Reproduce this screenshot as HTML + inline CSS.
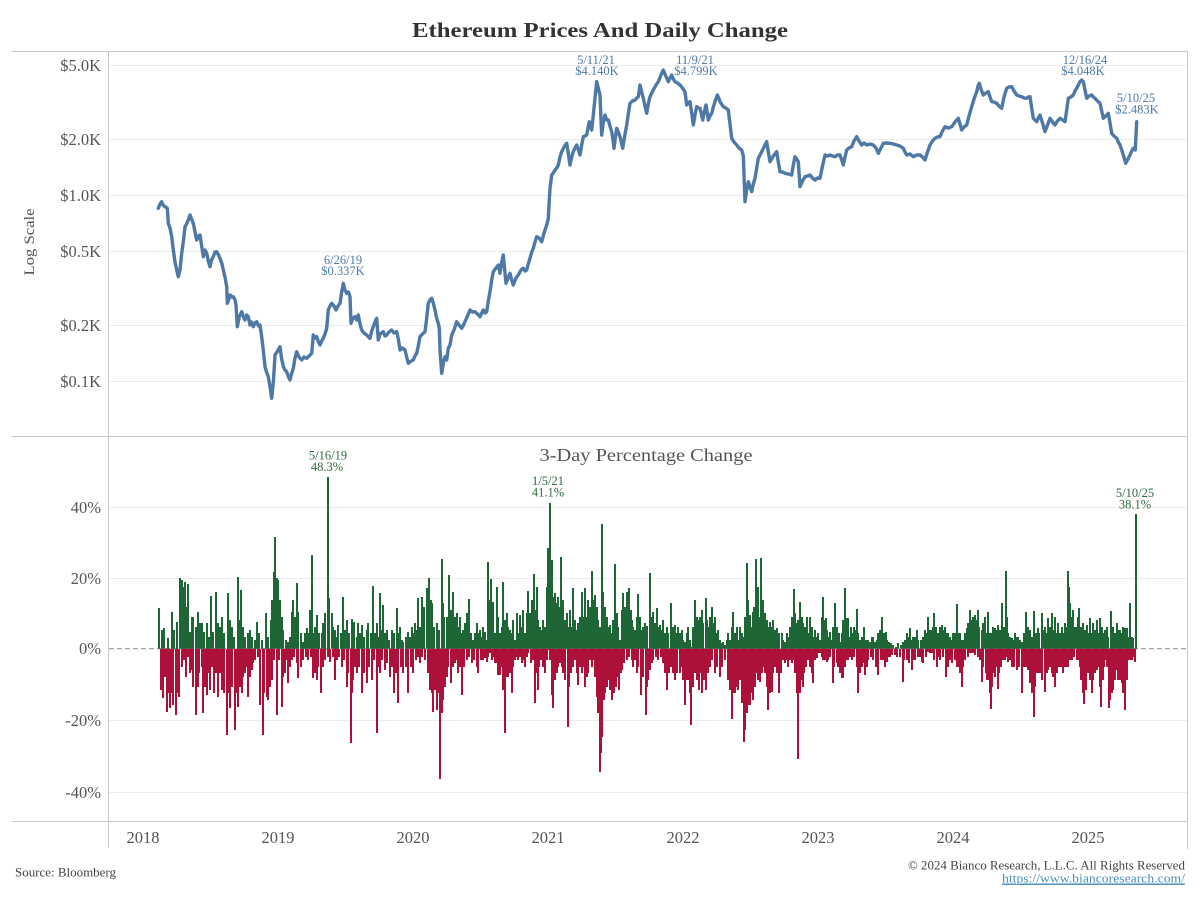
<!DOCTYPE html>
<html>
<head>
<meta charset="utf-8">
<style>
html,body{margin:0;padding:0;background:#fff;}
svg{display:block;}
text{font-family:"Liberation Serif","DejaVu Serif",serif;}
</style>
</head>
<body>
<svg width="1200" height="900" viewBox="0 0 1200 900" xmlns="http://www.w3.org/2000/svg">
<rect width="1200" height="900" fill="#fff"/>

<!-- Title -->
<text x="600" y="37" text-anchor="middle" font-size="21" font-weight="bold" fill="#333" textLength="376" lengthAdjust="spacingAndGlyphs">Ethereum Prices And Daily Change</text>

<!-- gridlines -->
<g stroke="#ececec" stroke-width="1">
<line x1="109" y1="65.5" x2="1187" y2="65.5"/>
<line x1="109" y1="139.5" x2="1187" y2="139.5"/>
<line x1="109" y1="195.5" x2="1187" y2="195.5"/>
<line x1="109" y1="251.5" x2="1187" y2="251.5"/>
<line x1="109" y1="325.5" x2="1187" y2="325.5"/>
<line x1="109" y1="381.5" x2="1187" y2="381.5"/>
<line x1="109" y1="507.5" x2="1187" y2="507.5"/>
<line x1="109" y1="578.5" x2="1187" y2="578.5"/>
<line x1="109" y1="720.5" x2="1187" y2="720.5"/>
<line x1="109" y1="792.5" x2="1187" y2="792.5"/>
</g>

<!-- frame -->
<g stroke="#c8c8c8" stroke-width="1">
<line x1="12" y1="51.5" x2="1188" y2="51.5"/>
<line x1="12" y1="436.5" x2="1188" y2="436.5"/>
<line x1="12" y1="821.5" x2="1188" y2="821.5"/>
<line x1="108.5" y1="51.5" x2="108.5" y2="848"/>
<line x1="1187.5" y1="51.5" x2="1187.5" y2="849"/>
</g>

<!-- y labels top -->
<g font-size="16.5" fill="#555" text-anchor="end">
<text x="101" y="71">$5.0K</text>
<text x="101" y="145">$2.0K</text>
<text x="101" y="201">$1.0K</text>
<text x="101" y="257">$0.5K</text>
<text x="101" y="331">$0.2K</text>
<text x="101" y="387">$0.1K</text>
</g>
<text transform="translate(34,242) rotate(-90)" text-anchor="middle" font-size="15" fill="#555" textLength="67" lengthAdjust="spacingAndGlyphs">Log Scale</text>

<!-- price line -->
<polyline fill="none" stroke="#4e79a7" stroke-width="3.4" stroke-linejoin="round" stroke-linecap="round" points="158.3,208.3 160,204 161.7,201.7 163,205 165,206.7 167.3,208.3 168.3,223.3 170,228 171.7,236.7 173.3,250 175,262 176.7,270 178.3,276.7 180,270 181.7,253.3 183.5,240 185,226.7 186.5,224 188.3,220 190,215 191.5,219 193.3,223.3 195,232 196.7,240 198.5,236 200,235 201.5,245 203.3,256.7 205,250 206.7,253.3 208.5,262 210,266.7 211.5,260 213.3,256.7 215,252 216.7,251.7 218.5,255 220,258.3 222,264 223.3,270 225,277 226.7,286.7 227.3,303.3 228.5,300 230,295 231.5,297 233.3,296.7 235,300 236,305 237.3,326.7 239.3,316.7 241.7,311.7 243.5,317 245,320 246.7,315 248.3,316.7 250,325 251.5,322 253.3,326.7 255,323 256.7,321.7 258.5,326 260,325 261.7,336.7 263.5,352 265,366.7 266.5,372 268.3,376.7 270,387 271.7,398.3 273.5,380 275,355 277,352 280,346.7 281.5,358 283.3,366.7 285,370 286.7,371.7 288.5,377 290,380 291.5,374 293.3,368.3 295,358 296.7,351.7 299,357 301.7,360 304,357 306.7,358.3 309,356 311.7,353.3 313.3,335 315,338 316.7,336.7 318.5,342 320,345 321.7,341 323.3,338.3 325,334 326.7,328.3 328.3,310 330,306 331.7,303.3 334,306 336,310 338,306 340,303.3 341.7,292 343.3,283.3 345,290 346.7,293.3 348.5,292 350,296.7 351,323.3 353,318 355,316.7 356.7,320 358.3,315 360,324 361.7,330 364,333 366.7,335 368.5,337 370,338.3 371.7,331 373.3,326.7 375,322 376.7,318.3 378.3,340 380,334 383.3,331.7 385,336 386.7,335 389,332 391.7,330 394,333 396.7,331.7 398.5,340 400,350 402.5,348 405,350 406.7,357 408.3,363.3 411,361 413.3,360 415,356 416.7,353.3 418.5,345 420,336.7 422.5,334 425,331.7 426.7,318 428.3,303.3 430,300 431.7,298.3 433.3,303 435,310 436.7,318.3 438.3,323.3 439.3,328.3 440,350 441.7,373.3 443.5,362 445,356.7 446.7,360 448.3,348.3 450,345 451.7,335 454,330 456.7,321.7 459,325 461.7,328.3 463.5,325 465,321.7 467.5,316 470,310 472.5,312 475,311.7 477.5,314 480,316.7 481.7,313 483.3,310 485,313 486.7,311.7 488.5,300 490,291.7 491.7,280 493.3,271.7 496,268 498.3,265 500,273.3 501.7,262 503.3,255 504.7,270 506,283.3 508,278 510,273.3 511.7,280 513.3,285 516,278 518.3,275 521,270 523.3,268.3 525,271 526.7,270 528.5,263 530,258.3 531.7,252 533.3,248.3 535,242 536.7,236.7 539,238 541.7,241.7 543.5,235 545,230 546.7,225 548.3,218.3 549.3,200 550,188.3 551.7,175 553.3,173 555,170 556.7,168 558.3,165 560,157 561.7,151.7 564,147 566.7,143.3 568.5,155 570,165 571.7,157 573.3,151.7 575,148 576.7,145 578.5,150 580,155 581.7,145 583.3,136.7 585,136 586.7,135 588,128 589.3,121.7 590.5,126 591.7,130 593.3,115 595,98 596.7,81.7 598.3,88 600,95 600.8,115 601.7,135 603.3,122 605,115 606.7,120 608.3,120 610,126 611.7,131.7 613,140 614,148.3 615.3,138 616.7,128.3 618.3,132 620,136.7 621.5,143 622.7,148.3 624.7,136 626.7,125 628.3,114 630,103.3 632.5,101 635,100 636.7,98 638.3,96.7 640,85 641.7,92 643.3,98.3 645,106 646.7,113.3 648.3,104 650,96.7 651.7,93 653.3,90 656,85 658.3,81.7 661,75 663.3,70 665.8,76 668.3,81.7 670,78 671.7,75 673.3,79 675,81.7 677.5,83 680,85 682.5,88 685,91.7 686.7,105 688.3,103 690,101.7 691.7,113 693.3,125 695,115 696.7,106.7 698.3,108 700,108.3 701.4,114 702.7,120 704.3,112 706,105 707.2,112 708.3,120 710,116 711.7,113.3 713.3,107 715,101.7 717.3,95 718.7,98 720,101.7 723.3,106.7 725.8,108 728.3,110 730,124 731.7,138.3 734,142 736.7,145 739,148 741.7,150 743.3,156 744.2,180 745,201.7 746.7,190 748.3,181.7 750,187 751.7,191.7 753.3,184 755,178.3 756.7,168 758.3,158.3 760,155 761.7,151.7 764,147 766.7,141.7 768.3,152 770,161.7 773.3,156 776.7,151.7 778.3,162 780,171.7 782.5,172 785,173.3 788.3,174 791.7,175 793.3,165 795,156.7 796.7,159 798.3,161.7 799.2,175 800,186.7 802.5,181 805,176.7 807.5,176 810,175 812.5,178 815,180 817.5,178 820,178.3 822.5,166 825,155 827.5,156 830,155 832.5,156 835,156.7 837.5,155 840,155 841.7,160 843.3,165 845,157 846.7,150 849,148 851.7,146.7 854,141 856.7,136.7 859,141 861.7,145 864,143 866.7,145 870,144 873.3,145 876,148 878.3,153.3 881,148 883.3,143.3 886.7,143 890,143.3 893.3,144 896.7,145 900,146 903.3,148.3 905,152 906.7,155 910,154 913.3,156.7 916.7,155 920,155 922.5,157 925,160 927.5,152 930,145 932.5,141 935,138.3 937.5,137 940,136.7 942.5,131 945,126.7 948.3,128 951.7,126.7 955,122 958.3,118.3 960,124 961.7,130 964,127 966.7,125 969,116 971.7,106.7 974,99 976.7,91.7 978,86 979.3,83.3 981.3,90 983.3,95 985.8,93 988.3,91.7 990,97 991.7,101.7 994,102 996.7,103.3 999,106 1001.7,108.3 1004,97 1006.7,88.3 1009,87 1011.7,86.7 1014,91 1016.7,95 1019,96 1021.7,96.7 1024,98 1026.7,98.3 1028.3,97 1030,96.7 1031.7,108 1033.3,118.3 1035,120 1036.7,121.7 1038.3,118 1040,115 1042.5,123 1045,131.7 1047.5,125 1050,118.3 1052.5,122 1055,125 1057.5,121 1060,118.3 1062.5,120 1065,121.7 1066.7,110 1068.3,98.3 1070.8,97 1073.3,95 1075,91 1076.7,88.3 1078.3,85 1080,81.7 1081.7,80 1083.3,81.7 1085,90 1086.7,98.3 1089,96 1091.7,95 1093.3,97 1095,98.3 1097.5,101 1100,103.3 1101.7,111 1103.3,118.3 1105.8,116 1108.3,113.3 1110,123 1111.7,133.3 1114,136 1116.7,138.3 1118.3,142 1120,145 1121.7,150 1123.3,155 1124.5,159 1125.7,163.3 1128,159 1130,155 1131.7,151 1133.3,148.3 1135.3,150 1136,135 1136.7,121.7"/>

<!-- price annotations -->
<g font-size="12.5" fill="#4e79a7" text-anchor="middle">
<text x="343" y="264">6/26/19</text>
<text x="343" y="275">$0.337K</text>
<text x="596" y="64">5/11/21</text>
<text x="597" y="75">$4.140K</text>
<text x="695" y="64">11/9/21</text>
<text x="696" y="75">$4.799K</text>
<text x="1085" y="64">12/16/24</text>
<text x="1083" y="75">$4.048K</text>
<text x="1136" y="102">5/10/25</text>
<text x="1137" y="113.5">$2.483K</text>
</g>

<!-- bottom panel -->
<text x="646" y="461" text-anchor="middle" font-size="17.5" fill="#555" textLength="213" lengthAdjust="spacingAndGlyphs">3-Day Percentage Change</text>
<g font-size="16.5" fill="#555" text-anchor="end">
<text x="101" y="513">40%</text>
<text x="101" y="584">20%</text>
<text x="101" y="654">0%</text>
<text x="101" y="726">-20%</text>
<text x="101" y="798">-40%</text>
</g>

<line x1="109" y1="648.7" x2="1187" y2="648.7" stroke="#9a9a9a" stroke-width="1.2" stroke-dasharray="5 3"/>

<path fill="none" stroke="#1f6636" stroke-width="2" d="M159 648.7V608M162 648.7V630M164 648.7V628M168 648.7V638M172 648.7V612M174 648.7V630M177 648.7V622M180 648.7V578M182 648.7V580M183 648.7V587M185 648.7V582M187 648.7V607M188 648.7V584M190 648.7V632M192 648.7V617M193 648.7V617M196 648.7V627M198 648.7V612M200 648.7V623M202 648.7V623M204 648.7V632M207 648.7V623M209 648.7V637M211 648.7V596M213 648.7V632M216 648.7V592M218 648.7V623M220 648.7V627M222 648.7V617M224 648.7V633M228 648.7V593M230 648.7V620M232 648.7V627M234 648.7V637M238 648.7V577M239 648.7V620M241 648.7V590M243 648.7V627M245 648.7V637M248 648.7V633M250 648.7V630M252 648.7V637M255 648.7V640M257 648.7V622M259 648.7V633M262 648.7V640M266 648.7V613M268 648.7V637M271 648.7V620M272 648.7V600M274 648.7V572M275 648.7V537M277 648.7V578M278 648.7V580M280 648.7V600M282 648.7V617M283 648.7V630M286 648.7V640M288 648.7V642M290 648.7V637M292 648.7V612M293 648.7V600M295 648.7V617M297 648.7V583M298 648.7V612M301 648.7V633M303 648.7V642M305 648.7V633M307 648.7V628M308 648.7V633M310 648.7V610M312 648.7V555M313 648.7V633M315 648.7V627M317 648.7V615M319 648.7V633M322 648.7V633M323 648.7V623M325 648.7V613M328 648.7V477M329 648.7V598M332 648.7V613M333 648.7V627M335 648.7V630M337 648.7V637M338 648.7V625M341 648.7V633M343 648.7V597M345 648.7V630M347 648.7V620M349 648.7V633M352 648.7V619M354 648.7V622M357 648.7V637M358 648.7V623M360 648.7V633M362 648.7V625M364 648.7V637M367 648.7V630M368 648.7V623M371 648.7V633M373 648.7V586M375 648.7V633M377 648.7V623M378 648.7V637M380 648.7V593M382 648.7V630M383 648.7V605M385 648.7V633M387 648.7V630M389 648.7V640M392 648.7V630M394 648.7V633M397 648.7V608M398 648.7V633M400 648.7V627M402 648.7V640M403 648.7V642M406 648.7V637M408 648.7V632M410 648.7V637M412 648.7V627M413 648.7V633M415 648.7V623M417 648.7V630M418 648.7V598M420 648.7V627M422 648.7V597M424 648.7V607M427 648.7V588M429 648.7V578M431 648.7V600M432 648.7V603M434 648.7V627M437 648.7V623M439 648.7V630M442 648.7V559M443 648.7V603M444 648.7V617M447 648.7V617M449 648.7V575M451 648.7V610M453 648.7V592M455 648.7V617M457 648.7V613M458 648.7V627M460 648.7V617M462 648.7V633M463 648.7V630M465 648.7V623M467 648.7V613M469 648.7V599M471 648.7V633M473 648.7V640M475 648.7V633M477 648.7V623M478 648.7V633M480 648.7V630M482 648.7V637M483 648.7V627M485 648.7V632M487 648.7V640M488 648.7V562M490 648.7V600M491 648.7V579M492 648.7V603M493 648.7V602M495 648.7V633M497 648.7V587M498 648.7V617M500 648.7V633M502 648.7V627M503 648.7V582M505 648.7V620M507 648.7V613M508 648.7V627M510 648.7V630M512 648.7V633M513 648.7V620M515 648.7V640M517 648.7V613M518 648.7V633M520 648.7V615M522 648.7V627M523 648.7V610M525 648.7V633M527 648.7V613M528 648.7V591M530 648.7V613M532 648.7V600M534 648.7V574M536 648.7V610M537 648.7V587M538 648.7V620M540 648.7V627M542 648.7V630M543 648.7V620M545 648.7V627M547 648.7V587M548 648.7V548M550 648.7V503M552 648.7V560M553 648.7V597M555 648.7V593M557 648.7V603M558 648.7V597M560 648.7V607M561 648.7V557M563 648.7V600M565 648.7V620M567 648.7V613M568 648.7V627M570 648.7V610M572 648.7V627M573 648.7V588M575 648.7V620M577 648.7V630M578 648.7V623M580 648.7V617M582 648.7V592M583 648.7V617M585 648.7V588M587 648.7V617M588 648.7V600M590 648.7V607M592 648.7V571M593 648.7V600M595 648.7V595M597 648.7V607M598 648.7V620M600 648.7V627M602 648.7V524M603 648.7V592M605 648.7V607M607 648.7V617M608 648.7V627M610 648.7V625M612 648.7V633M613 648.7V620M615 648.7V564M617 648.7V613M618 648.7V627M620 648.7V640M622 648.7V610M623 648.7V593M625 648.7V607M627 648.7V592M629 648.7V588M631 648.7V610M632 648.7V620M633 648.7V627M635 648.7V630M637 648.7V617M638 648.7V594M640 648.7V617M642 648.7V630M643 648.7V627M645 648.7V623M647 648.7V626M650 648.7V573M652 648.7V617M653 648.7V612M655 648.7V623M657 648.7V608M658 648.7V627M660 648.7V625M662 648.7V630M663 648.7V620M665 648.7V633M667 648.7V627M668 648.7V633M671 648.7V603M673 648.7V627M675 648.7V625M677 648.7V633M678 648.7V627M680 648.7V633M682 648.7V630M683 648.7V640M685 648.7V642M687 648.7V633M688 648.7V627M690 648.7V640M692 648.7V647M693 648.7V627M695 648.7V600M697 648.7V617M698 648.7V620M700 648.7V617M702 648.7V610M703 648.7V623M706 648.7V598M707 648.7V620M709 648.7V627M710 648.7V617M712 648.7V607M713 648.7V623M715 648.7V617M717 648.7V633M718 648.7V630M720 648.7V640M722 648.7V643M723 648.7V642M725 648.7V645M727 648.7V640M728 648.7V633M730 648.7V640M732 648.7V627M733 648.7V612M735 648.7V633M737 648.7V627M738 648.7V640M740 648.7V627M742 648.7V633M743 648.7V637M745 648.7V617M747 648.7V563M748 648.7V600M750 648.7V615M752 648.7V627M753 648.7V612M754 648.7V607M756 648.7V559M757 648.7V593M758 648.7V587M760 648.7V617M761 648.7V558M762 648.7V600M763 648.7V600M765 648.7V613M767 648.7V620M768 648.7V627M770 648.7V622M772 648.7V627M773 648.7V620M775 648.7V630M777 648.7V628M779 648.7V633M782 648.7V633M783 648.7V640M785 648.7V642M787 648.7V633M788 648.7V637M790 648.7V627M792 648.7V617M794 648.7V589M795 648.7V613M797 648.7V623M798 648.7V620M800 648.7V602M802 648.7V617M803 648.7V623M805 648.7V627M807 648.7V617M808 648.7V633M810 648.7V617M812 648.7V627M813 648.7V637M815 648.7V630M817 648.7V637M818 648.7V633M820 648.7V640M822 648.7V617M823 648.7V597M824 648.7V620M826 648.7V618M827 648.7V630M829 648.7V637M830 648.7V632M832 648.7V640M833 648.7V627M835 648.7V603M837 648.7V627M838 648.7V633M839 648.7V633M840 648.7V642M842 648.7V633M843 648.7V620M845 648.7V588M846 648.7V618M848 648.7V618M849 648.7V637M851 648.7V627M853 648.7V633M854 648.7V627M856 648.7V630M857 648.7V609M858 648.7V633M860 648.7V640M862 648.7V637M864 648.7V627M866 648.7V640M867 648.7V642M868 648.7V640M870 648.7V642M872 648.7V637M873 648.7V637M875 648.7V642M877 648.7V640M878 648.7V633M880 648.7V630M882 648.7V617M884 648.7V633M886 648.7V632M887 648.7V640M889 648.7V642M891 648.7V643M893 648.7V645M896 648.7V647M898 648.7V643M901 648.7V645M903 648.7V642M905 648.7V640M907 648.7V633M908 648.7V637M910 648.7V628M912 648.7V640M913 648.7V637M915 648.7V637M917 648.7V630M918 648.7V640M921 648.7V640M923 648.7V637M925 648.7V630M927 648.7V633M928 648.7V617M930 648.7V630M932 648.7V630M933 648.7V627M934 648.7V613M936 648.7V627M938 648.7V633M940 648.7V627M942 648.7V625M943 648.7V630M945 648.7V627M947 648.7V633M948 648.7V633M950 648.7V637M952 648.7V640M953 648.7V633M955 648.7V633M957 648.7V604M958 648.7V633M960 648.7V633M962 648.7V640M963 648.7V640M965 648.7V633M967 648.7V628M968 648.7V623M970 648.7V610M972 648.7V620M973 648.7V617M974 648.7V627M975 648.7V615M976 648.7V620M978 648.7V610M979 648.7V627M982 648.7V630M983 648.7V623M985 648.7V617M987 648.7V633M988 648.7V612M990 648.7V633M992 648.7V633M993 648.7V627M995 648.7V628M997 648.7V630M998 648.7V625M1000 648.7V630M1002 648.7V603M1004 648.7V627M1006 648.7V571M1007 648.7V617M1008 648.7V633M1010 648.7V637M1012 648.7V638M1013 648.7V640M1015 648.7V633M1017 648.7V637M1018 648.7V637M1020 648.7V640M1022 648.7V642M1024 648.7V633M1026 648.7V612M1028 648.7V627M1030 648.7V630M1032 648.7V637M1034 648.7V611M1036 648.7V633M1038 648.7V628M1039 648.7V633M1042 648.7V613M1043 648.7V630M1045 648.7V627M1047 648.7V633M1048 648.7V618M1050 648.7V627M1052 648.7V613M1053 648.7V630M1055 648.7V617M1057 648.7V633M1058 648.7V623M1060 648.7V633M1062 648.7V627M1063 648.7V633M1065 648.7V623M1067 648.7V627M1068 648.7V571M1069 648.7V587M1070 648.7V603M1072 648.7V617M1073 648.7V610M1075 648.7V627M1077 648.7V627M1078 648.7V617M1079 648.7V608M1081 648.7V627M1083 648.7V623M1085 648.7V630M1087 648.7V625M1088 648.7V633M1090 648.7V618M1092 648.7V633M1093 648.7V623M1095 648.7V630M1097 648.7V620M1098 648.7V633M1100 648.7V618M1102 648.7V627M1103 648.7V633M1105 648.7V630M1107 648.7V627M1108 648.7V637M1111 648.7V611M1112 648.7V633M1113 648.7V627M1115 648.7V633M1117 648.7V623M1118 648.7V630M1120 648.7V630M1122 648.7V633M1123 648.7V627M1125 648.7V628M1127 648.7V628M1128 648.7V637M1130 648.7V603M1132 648.7V637M1133 648.7V638M1136 648.7V514"/>

<path fill="none" stroke="#ad1038" stroke-width="2" d="M161 648.7V690M163 648.7V698M165 648.7V677M167 648.7V712M168 648.7V693M170 648.7V708M172 648.7V693M173 648.7V705M176 648.7V715M177 648.7V693M179 648.7V697M182 648.7V667M184 648.7V660M186 648.7V677M188 648.7V657M190 648.7V673M192 648.7V670M193 648.7V687M196 648.7V715M198 648.7V687M199 648.7V673M202 648.7V667M203 648.7V713M205 648.7V687M207 648.7V695M208 648.7V673M210 648.7V690M212 648.7V667M214 648.7V693M216 648.7V673M218 648.7V697M220 648.7V673M222 648.7V690M224 648.7V693M227 648.7V735M228 648.7V693M230 648.7V708M232 648.7V687M235 648.7V730M237 648.7V693M238 648.7V707M240 648.7V687M242 648.7V693M243 648.7V677M245 648.7V673M247 648.7V667M248 648.7V697M250 648.7V677M252 648.7V670M253 648.7V663M255 648.7V660M258 648.7V657M260 648.7V705M263 648.7V735M264 648.7V693M267 648.7V697M268 648.7V700M270 648.7V687M272 648.7V680M274 648.7V660M277 648.7V715M279 648.7V660M282 648.7V707M283 648.7V677M285 648.7V673M287 648.7V660M288 648.7V683M290 648.7V667M292 648.7V660M294 648.7V657M297 648.7V663M298 648.7V678M301 648.7V667M303 648.7V660M306 648.7V657M308 648.7V660M311 648.7V657M313 648.7V678M315 648.7V673M317 648.7V680M318 648.7V667M321 648.7V693M323 648.7V667M325 648.7V660M328 648.7V657M330 648.7V662M333 648.7V657M335 648.7V680M337 648.7V660M339 648.7V657M342 648.7V667M344 648.7V660M347 648.7V687M348 648.7V673M351 648.7V743M352 648.7V693M353 648.7V680M355 648.7V667M357 648.7V673M359 648.7V667M362 648.7V693M364 648.7V673M367 648.7V683M369 648.7V667M372 648.7V680M374 648.7V660M377 648.7V733M378 648.7V667M380 648.7V673M382 648.7V660M385 648.7V670M387 648.7V663M390 648.7V677M392 648.7V667M394 648.7V693M396 648.7V673M398 648.7V703M401 648.7V667M403 648.7V673M406 648.7V667M408 648.7V693M411 648.7V667M413 648.7V673M416 648.7V660M418 648.7V657M420 648.7V663M422 648.7V657M425 648.7V660M428 648.7V673M430 648.7V690M432 648.7V693M433 648.7V712M435 648.7V690M437 648.7V710M438 648.7V693M440 648.7V779M442 648.7V713M443 648.7V700M445 648.7V687M447 648.7V677M448 648.7V667M451 648.7V683M453 648.7V667M455 648.7V663M457 648.7V660M458 648.7V673M460 648.7V667M462 648.7V695M464 648.7V667M467 648.7V660M469 648.7V657M472 648.7V663M474 648.7V660M477 648.7V667M478 648.7V673M481 648.7V660M483 648.7V660M485 648.7V658M487 648.7V662M488 648.7V657M490 648.7V653M492 648.7V660M493 648.7V657M495 648.7V663M497 648.7V663M498 648.7V675M500 648.7V675M502 648.7V667M503 648.7V690M505 648.7V733M507 648.7V677M508 648.7V677M510 648.7V673M512 648.7V693M513 648.7V667M515 648.7V660M517 648.7V657M518 648.7V660M520 648.7V657M522 648.7V663M523 648.7V660M525 648.7V667M527 648.7V657M528 648.7V653M531 648.7V663M533 648.7V660M535 648.7V703M537 648.7V673M538 648.7V690M539 648.7V667M541 648.7V660M543 648.7V667M545 648.7V673M547 648.7V660M548 648.7V650M550 648.7V660M552 648.7V695M553 648.7V708M555 648.7V680M557 648.7V673M558 648.7V667M560 648.7V663M562 648.7V667M563 648.7V673M565 648.7V680M568 648.7V727M569 648.7V687M571 648.7V673M573 648.7V667M575 648.7V660M577 648.7V673M578 648.7V685M580 648.7V667M582 648.7V673M583 648.7V667M585 648.7V687M587 648.7V677M588 648.7V673M590 648.7V660M592 648.7V667M593 648.7V660M595 648.7V677M597 648.7V697M598 648.7V713M600 648.7V772M601 648.7V753M602 648.7V737M604 648.7V700M605 648.7V693M607 648.7V687M608 648.7V680M610 648.7V690M612 648.7V700M614 648.7V693M616 648.7V687M617 648.7V677M619 648.7V690M621 648.7V673M622 648.7V670M624 648.7V663M627 648.7V660M629 648.7V657M632 648.7V660M633 648.7V667M635 648.7V660M637 648.7V673M638 648.7V667M641 648.7V695M643 648.7V677M646 648.7V715M647 648.7V687M648 648.7V680M650 648.7V670M652 648.7V663M653 648.7V660M656 648.7V657M658 648.7V660M661 648.7V657M663 648.7V663M665 648.7V673M667 648.7V690M669 648.7V673M671 648.7V667M673 648.7V673M675 648.7V680M677 648.7V673M680 648.7V673M682 648.7V667M683 648.7V680M685 648.7V705M687 648.7V680M688 648.7V680M690 648.7V693M691 648.7V725M693 648.7V687M695 648.7V673M697 648.7V680M699 648.7V690M701 648.7V673M702 648.7V693M704 648.7V680M706 648.7V690M708 648.7V673M710 648.7V667M712 648.7V660M715 648.7V673M717 648.7V667M720 648.7V677M722 648.7V667M725 648.7V660M728 648.7V680M730 648.7V690M732 648.7V719M733 648.7V693M735 648.7V693M737 648.7V687M738 648.7V690M740 648.7V680M742 648.7V703M744 648.7V742M745 648.7V730M747 648.7V713M748 648.7V705M750 648.7V705M752 648.7V693M753 648.7V700M755 648.7V687M757 648.7V673M758 648.7V680M760 648.7V682M762 648.7V673M763 648.7V667M765 648.7V673M767 648.7V687M768 648.7V710M770 648.7V693M772 648.7V692M773 648.7V673M775 648.7V667M777 648.7V673M779 648.7V693M781 648.7V673M783 648.7V660M785 648.7V663M787 648.7V660M788 648.7V667M790 648.7V660M792 648.7V663M793 648.7V660M795 648.7V673M797 648.7V693M798 648.7V759M800 648.7V693M801 648.7V680M803 648.7V687M804 648.7V673M806 648.7V667M808 648.7V660M810 648.7V667M812 648.7V673M813 648.7V683M815 648.7V660M817 648.7V658M818 648.7V653M820 648.7V653M822 648.7V657M823 648.7V660M825 648.7V660M827 648.7V662M828 648.7V660M830 648.7V657M833 648.7V683M834 648.7V667M837 648.7V663M838 648.7V667M840 648.7V673M842 648.7V678M843 648.7V678M845 648.7V667M847 648.7V660M848 648.7V660M850 648.7V657M852 648.7V660M854 648.7V657M857 648.7V667M858 648.7V693M860 648.7V673M862 648.7V667M863 648.7V663M865 648.7V675M867 648.7V667M868 648.7V660M871 648.7V657M873 648.7V660M876 648.7V667M878 648.7V675M881 648.7V660M883 648.7V660M885 648.7V667M887 648.7V662M888 648.7V657M890 648.7V657M892 648.7V655M895 648.7V655M897 648.7V657M900 648.7V657M903 648.7V682M904 648.7V660M907 648.7V660M909 648.7V663M912 648.7V670M913 648.7V660M915 648.7V660M918 648.7V657M920 648.7V657M922 648.7V662M923 648.7V663M926 648.7V657M928 648.7V652M930 648.7V653M932 648.7V653M934 648.7V660M937 648.7V667M938 648.7V657M940 648.7V660M943 648.7V657M946 648.7V677M948 648.7V667M950 648.7V660M952 648.7V663M955 648.7V660M957 648.7V667M959 648.7V667M960 648.7V673M962 648.7V687M963 648.7V667M965 648.7V660M968 648.7V657M970 648.7V653M972 648.7V653M973 648.7V653M975 648.7V655M978 648.7V657M980 648.7V660M982 648.7V682M983 648.7V667M986 648.7V673M987 648.7V680M988 648.7V680M990 648.7V693M991 648.7V709M992 648.7V687M994 648.7V673M995 648.7V677M996 648.7V667M998 648.7V689M999 648.7V673M1001 648.7V667M1003 648.7V660M1005 648.7V660M1007 648.7V657M1008 648.7V662M1010 648.7V660M1012 648.7V667M1014 648.7V667M1017 648.7V670M1019 648.7V667M1022 648.7V693M1024 648.7V667M1026 648.7V667M1028 648.7V670M1030 648.7V683M1032 648.7V693M1034 648.7V717M1035 648.7V687M1037 648.7V673M1038 648.7V673M1040 648.7V673M1042 648.7V680M1045 648.7V692M1047 648.7V673M1048 648.7V670M1050 648.7V667M1052 648.7V673M1053 648.7V677M1055 648.7V687M1057 648.7V673M1059 648.7V667M1061 648.7V667M1063 648.7V673M1065 648.7V667M1067 648.7V667M1068 648.7V667M1070 648.7V660M1072 648.7V660M1074 648.7V657M1077 648.7V660M1078 648.7V660M1080 648.7V667M1081 648.7V680M1083 648.7V693M1084 648.7V704M1086 648.7V690M1088 648.7V673M1090 648.7V680M1092 648.7V693M1093 648.7V680M1095 648.7V673M1097 648.7V670M1098 648.7V667M1100 648.7V687M1101 648.7V707M1103 648.7V680M1104 648.7V667M1105 648.7V660M1107 648.7V667M1109 648.7V708M1110 648.7V700M1112 648.7V693M1113 648.7V690M1115 648.7V680M1117 648.7V670M1118 648.7V680M1120 648.7V680M1122 648.7V683M1123 648.7V693M1125 648.7V710M1127 648.7V680M1128 648.7V660M1130 648.7V660M1132 648.7V660M1133 648.7V657M1135 648.7V662"/>

<!-- bar annotations -->
<g font-size="12.5" fill="#2f6b42" text-anchor="middle">
<text x="328" y="459.5">5/16/19</text>
<text x="327" y="471">48.3%</text>
<text x="548" y="485">1/5/21</text>
<text x="548" y="496.5">41.1%</text>
<text x="1135" y="497">5/10/25</text>
<text x="1135" y="508.5">38.1%</text>
</g>

<!-- x axis years -->
<g font-size="16.5" fill="#555" text-anchor="middle">
<text x="143" y="843">2018</text>
<text x="278" y="843">2019</text>
<text x="413" y="843">2020</text>
<text x="548" y="843">2021</text>
<text x="683" y="843">2022</text>
<text x="818" y="843">2023</text>
<text x="953" y="843">2024</text>
<text x="1088" y="843">2025</text>
</g>

<!-- footer -->
<text x="15" y="876.5" font-size="13" fill="#444" textLength="101" lengthAdjust="spacingAndGlyphs">Source: Bloomberg</text>
<text x="1185" y="869.5" font-size="13" fill="#444" text-anchor="end" textLength="277" lengthAdjust="spacingAndGlyphs">© 2024 Bianco Research, L.L.C. All Rights Reserved</text>
<text x="1185" y="882.5" font-size="13" fill="#4a8fbb" text-anchor="end" text-decoration="underline" textLength="183" lengthAdjust="spacingAndGlyphs">https://www.biancoresearch.com/</text>
<line x1="1002" y1="884.5" x2="1185" y2="884.5" stroke="#4a8fbb" stroke-width="0.8"/>
</svg>
</body>
</html>
